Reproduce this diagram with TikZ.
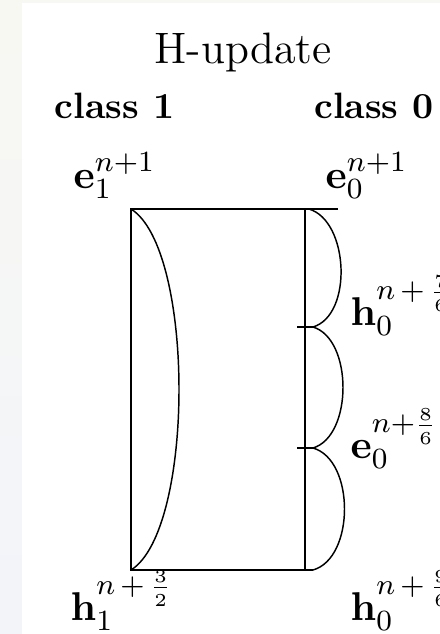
\documentclass[tikz,border=0pt]{standalone}
\usepackage{xcolor}
\usepackage{tikz}
\usetikzlibrary{positioning}
\definecolor{slidetop}{HTML}{F8F8F2}
\definecolor{slidebot}{HTML}{F2F4FA}

\begin{document}
\begin{tikzpicture}[x=0.2727pt, y=-0.2727pt,
		lab/.style={inner sep=0pt, anchor=base west, font=\fontsize{11}{13}\selectfont},
		hdr/.style={inner sep=0pt, anchor=base, font=\bfseries}]
	% slide edge
	\clip (0,0) rectangle (440,634);
	\fill[top color=slidetop, bottom color=slidebot] (0,0) rectangle (440,634);
	\fill[white] (22,3) rectangle (440,634);

	\node[inner sep=0pt, anchor=base, font=\large] (title) at (243,63) {H-update};
	\node[hdr] (cls1) at (114.5,118) {class 1};
	\node[hdr] (cls0) at (374,118) {class 0};

	\coordinate (e1) at (131,209);
	\coordinate (h1) at (131,570);
	\coordinate (e0) at (305,209);
	\coordinate (h0) at (305,570);
	\coordinate (e0end) at (338,209);
	\coordinate (s0) at (309,209);
	\coordinate (s1) at (313,327);
	\coordinate (s2) at (313,448);
	\coordinate (s3) at (313,570);
	\coordinate (t1) at (297,327);
	\coordinate (t2) at (297,448);

	\node[lab] (e1lab) at (73,188) {$\mathbf{e}_1^{n+1}$};
	\node[lab] (e0lab) at (325,188) {$\mathbf{e}_0^{n+1}$};
	\node[lab] (h1lab) at (70,620) {$\mathbf{h}_1^{n\,+\,\frac{3}{2}}$};
	\node[lab] (h0alab) at (350,325) {$\mathbf{h}_0^{n\,+\,\frac{7}{6}}$};
	\node[lab] (e0blab) at (350,458) {$\mathbf{e}_0^{n+\frac{8}{6}}$};
	\node[lab] (h0blab) at (350,620) {$\mathbf{h}_0^{n\,+\,\frac{9}{6}}$};

	\draw (e0end) -- (e1) -- (h1) -- (s3)
		(e0) -- (h0)
		(t1) -- (s1)
		(t2) -- (s2);

	% one step for class 1, three for class 0
	\draw (e1) .. controls +(64,40) and +(64,-40) .. (h1);
	\draw (s0) .. controls +(40,12) and +(40,-12) .. (s1);
	\draw (s1) .. controls +(40,12) and +(40,-12) .. (s2);
	\draw (s2) .. controls +(42,12) and +(42,-12) .. (s3);
\end{tikzpicture}
\end{document}
